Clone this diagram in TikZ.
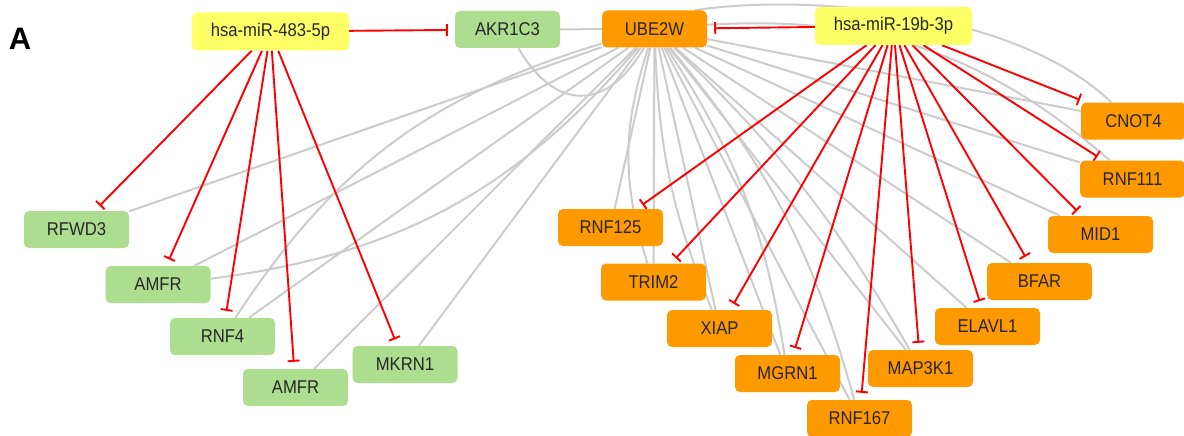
\documentclass[tikz,border=0pt]{standalone}
\usepackage{fontspec}
\setmainfont{Liberation Sans}[FakeStretch=0.9]
\newfontfamily\panelfont{Liberation Sans}
\usetikzlibrary{arrows.meta}
\pgfdeclarelayer{edgelayer}
\pgfsetlayers{edgelayer,main}
\definecolor{mirY}{HTML}{FFFF66}
\definecolor{geneG}{HTML}{ADDE8F}
\definecolor{geneO}{HTML}{FF9900}
\definecolor{ppiGray}{HTML}{CCCCCC}
\definecolor{inhRed}{HTML}{FF0000}
\definecolor{txt}{HTML}{262626}
\begin{document}
\begin{tikzpicture}[x=1pt,y=-1pt,
  box/.style={rectangle, rounded corners=5pt, minimum width=105pt, minimum height=37pt, inner sep=0pt, text=txt, font=\fontsize{18.5}{21}\selectfont},
  mirbox/.style={box, fill=mirY, minimum width=157pt, minimum height=38pt},
  gbox/.style={box, fill=geneG},
  obox/.style={box, fill=geneO},
  ppi/.style={draw=ppiGray, line width=2pt},
  inh/.style={draw=inhRed, line width=1.9pt, -{Bar[width=12pt,line width=1.9pt]}, shorten >=7pt}]
\useasboundingbox (0,0) rectangle (1184,436);
\node[font=\panelfont\bfseries\fontsize{31}{31}\selectfont, inner sep=0pt] (lbl) at (20,39) {A};
% nodes
\node[mirbox] (mirA) at (270.5,31.5) {hsa-miR-483-5p};
\node[gbox] (akr) at (507.5,29.5) {AKR1C3};
\node[obox] (ube) at (654.5,29) {UBE2W};
\node[mirbox] (mirB) at (893.5,26) {hsa-miR-19b-3p};
\node[obox] (cnot) at (1133.5,121) {CNOT4};
\node[obox] (rnf111) at (1132.5,179) {RNF111};
\node[obox] (mid1) at (1100.5,234.5) {MID1};
\node[obox] (bfar) at (1039.5,281.5) {BFAR};
\node[obox] (elavl) at (987.5,326.5) {ELAVL1};
\node[obox] (map3k) at (920.5,368.5) {MAP3K1};
\node[obox] (rnf167) at (859.5,418.5) {RNF167};
\node[obox] (mgrn) at (787.5,373.5) {MGRN1};
\node[obox] (xiap) at (719.5,328.5) {XIAP};
\node[obox] (trim) at (653.5,282) {TRIM2};
\node[obox] (rnf125) at (610.5,227.5) {RNF125};
\node[gbox] (rfwd) at (76.5,229.5) {RFWD3};
\node[gbox] (amfrA) at (158,284.5) {AMFR};
\node[gbox] (rnf4) at (222.5,336.5) {RNF4};
\node[gbox] (amfrB) at (295.5,387.5) {AMFR};
\node[gbox] (mkrn) at (405,364.5) {MKRN1};
\begin{pgfonlayer}{edgelayer}
% protein interactions
\draw[ppi] (ube) -- (akr);
\draw[ppi] (akr) to[bend right=60, looseness=1.5] (ube);
\draw[ppi] (ube) -- (rfwd);
\draw[ppi] (ube) -- (amfrA);
\draw[ppi] (amfrA) to[bend right=21] (ube);
\draw[ppi] (ube) -- (rnf4);
\draw[ppi] (rnf4) to[bend left=20] (ube);
\draw[ppi] (ube) -- (amfrB);
\draw[ppi] (ube) -- (mkrn);
\draw[ppi] (ube) -- (rnf125);
\draw[ppi] (ube) -- (trim);
\draw[ppi] (ube) to[bend right=18] (trim);
\draw[ppi] (ube) -- (xiap);
\draw[ppi] (ube) to[bend right=10] (xiap);
\draw[ppi] (ube) -- (mgrn);
\draw[ppi] (ube) to[bend left=12] (mgrn);
\draw[ppi] (ube) -- (rnf167);
\draw[ppi] (ube) to[bend left=12] (rnf167);
\draw[ppi] (ube) -- (map3k);
\draw[ppi] (ube) to[bend left=8] (map3k);
\draw[ppi] (ube) -- (elavl);
\draw[ppi] (ube) -- (bfar);
\draw[ppi] (ube) -- (mid1);
\draw[ppi] (ube) -- (rnf111);
\draw[ppi] (ube) to[bend left=22] (rnf111);
\draw[ppi] (ube) -- (cnot);
\draw[ppi] (ube.25) .. controls (790,-5) and (1010,5) .. (cnot.140);
% miRNA inhibition
\draw[inh] (mirA) -- (akr);
\draw[inh] (mirA) -- (rfwd);
\draw[inh] (mirA) -- (amfrA);
\draw[inh] (mirA) -- (rnf4);
\draw[inh] (mirA) -- (amfrB);
\draw[inh] (mirA) -- (mkrn);
\draw[inh] (mirB) -- (ube);
\draw[inh] (mirB) -- (cnot);
\draw[inh] (mirB) -- (rnf111);
\draw[inh] (mirB) -- (mid1);
\draw[inh] (mirB) -- (bfar);
\draw[inh] (mirB) -- (elavl);
\draw[inh] (mirB) -- (map3k);
\draw[inh] (mirB) -- (rnf167);
\draw[inh] (mirB) -- (mgrn);
\draw[inh] (mirB) -- (xiap);
\draw[inh] (mirB) -- (trim);
\draw[inh] (mirB) -- (rnf125);
\end{pgfonlayer}
\end{tikzpicture}
\end{document}
